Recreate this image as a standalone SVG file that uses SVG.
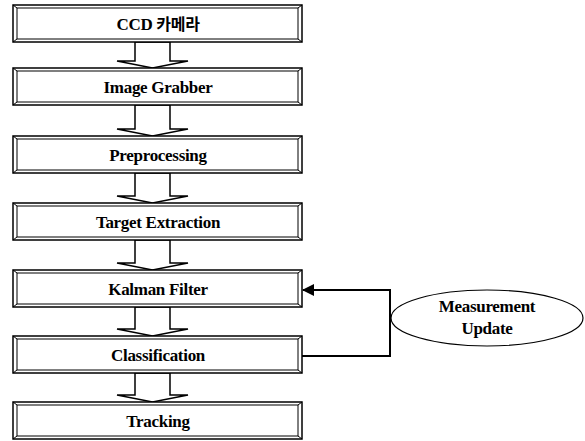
<svg xmlns="http://www.w3.org/2000/svg" width="585" height="441" viewBox="0 0 585 441">
<style>
.frame{fill:#fff;stroke:#000;stroke-width:1.5}
.inner{fill:none;stroke:#000;stroke-width:1}
.bevel{stroke:#000;stroke-width:1}
.lbl{font-family:'Liberation Serif','Times New Roman',serif;font-weight:bold;font-size:17px;text-anchor:middle;fill:#000;letter-spacing:-0.3px}
.kr{font-family:'Noto Sans CJK KR',sans-serif;font-weight:bold;font-size:16px}
.harrow{fill:#fff;stroke:#000;stroke-width:1.5;stroke-linejoin:miter}
.conn{fill:none;stroke:#000;stroke-width:2}
</style>
<defs>
<marker id="ah" markerWidth="12" markerHeight="12" refX="11" refY="6" orient="auto" markerUnits="userSpaceOnUse">
<path d="M0,0 L12,6 L0,12 Z" fill="#000"/>
</marker>
<g id="fr">
<rect class="frame" x="0" y="0" width="289" height="37"/>
<rect class="inner" x="4" y="3" width="281" height="31"/>
<path class="bevel" d="M0,0 L4,3 M289,0 L285,3 M0,37 L4,34 M289,37 L285,34"/>
</g>
</defs>

<g id="connectors">
<polygon class="harrow" points="135,42 170,42 170,61 188,61 152.5,68 117,61 135,61"/>
<polygon class="harrow" points="135,105 170,105 170,129 188,129 152.5,136 117,129 135,129"/>
<polygon class="harrow" points="135,173 170,173 170,196 188,196 152.5,203 117,196 135,196"/>
<polygon class="harrow" points="135,240 170,240 170,263 188,263 152.5,270 117,263 135,263"/>
<polygon class="harrow" points="135,307 170,307 170,329 188,329 152.5,336 117,329 135,329"/>
<polygon class="harrow" points="135,373 170,373 170,395 188,395 152.5,402 117,395 135,395"/>
<polyline class="conn" points="302,356 390,356 390,290 303,290" marker-end="url(#ah)"/>
</g>

<g id="ccd"><use href="#fr" x="13" y="5"/><text class="lbl" x="158" y="30">CCD <tspan class="kr">카메라</tspan></text></g>
<g id="grabber"><use href="#fr" x="13" y="68"/><text class="lbl" x="158" y="93">Image Grabber</text></g>
<g id="preproc"><use href="#fr" x="13" y="136"/><text class="lbl" x="158" y="161">Preprocessing</text></g>
<g id="extract"><use href="#fr" x="13" y="203"/><text class="lbl" x="158" y="228">Target Extraction</text></g>
<g id="kalman"><use href="#fr" x="13" y="270"/><text class="lbl" x="158" y="295">Kalman Filter</text></g>
<g id="classify"><use href="#fr" x="13" y="336"/><text class="lbl" x="158" y="361">Classification</text></g>
<g id="tracking"><use href="#fr" x="13" y="402"/><text class="lbl" x="158" y="427">Tracking</text></g>
<g id="measure">
<ellipse cx="487" cy="318" rx="96" ry="28" fill="#fff" stroke="#000" stroke-width="1.2"/>
<text class="lbl" x="487" y="312">Measurement</text>
<text class="lbl" x="487" y="334">Update</text>
</g>
</svg>
